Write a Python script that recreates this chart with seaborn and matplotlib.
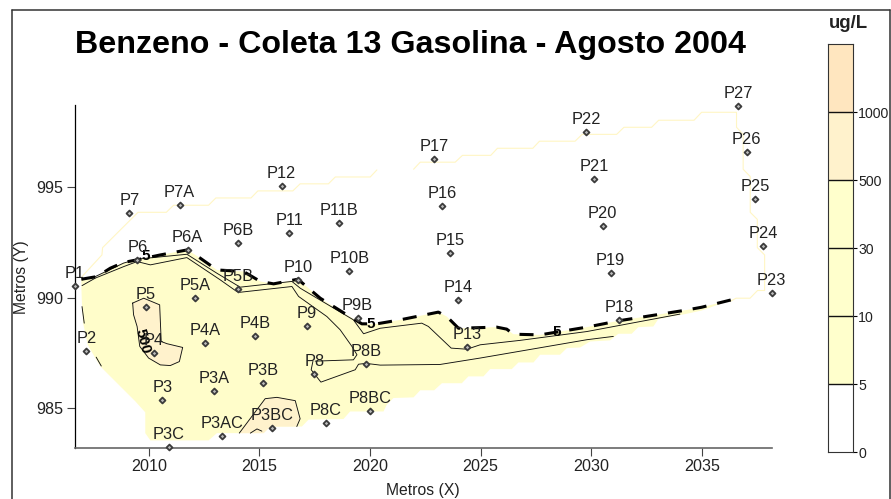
import numpy as np
import matplotlib
matplotlib.use("Agg")
import matplotlib.pyplot as plt
from matplotlib.lines import Line2D
import seaborn as sns

title = "Benzeno - Coleta 13 Gasolina - Agosto 2004"
wells = ["P1","P2","P3","P3A","P3AC","P3B","P3BC","P3C","P4","P4A","P4B","P5","P5A","P5B","P6","P6A","P6B",
         "P7","P7A","P8","P8B","P8BC","P8C","P9","P9B","P10","P10B","P11","P11B","P12","P13","P14","P15",
         "P16","P17","P18","P19","P20","P21","P22","P23","P24","P25","P26","P27"]
well_x = [2006.65,2007.18,2010.61,2012.95,2013.32,2015.16,2015.59,2010.90,2010.22,2012.55,2014.80,2009.86,2012.11,2014.04,2009.48,2011.75,2014.04,
          2009.12,2011.39,2017.49,2019.81,2020.02,2017.99,2017.13,2019.44,2016.74,2019.06,2016.36,2018.62,2016.00,2024.38,2024.00,2023.62,
          2023.25,2022.89,2031.26,2030.88,2030.52,2030.14,2029.77,2038.16,2037.78,2037.40,2037.03,2036.65]
well_y = [990.53,987.59,985.34,985.76,983.73,986.11,984.09,983.21,987.47,987.92,988.25,989.59,990.00,990.38,991.71,992.16,992.46,
          993.83,994.20,986.56,987.01,984.87,984.34,988.69,989.07,990.80,991.22,992.93,993.38,995.04,987.78,989.90,992.02,
          994.14,996.26,988.99,991.10,993.23,995.35,997.48,990.20,992.34,994.45,996.58,998.69]

# 5 ug/L contour (dashed)
c5_x = [2006.95,2007.66,2008.26,2008.86,2009.48,2010.52,2011.75,2012.33,2013.08,2014.28,2015.04,2015.64,2016.74,2017.75,2018.95,2019.63,2020.31,2021.36,
        2023.09,2023.47,2024.00,2025.73,2026.18,2026.48,2027.69,2029.80,2031.26,2032.96,2034.16,2034.99,2036.35]
c5_y = [990.83,990.95,991.33,991.59,991.71,991.93,992.16,991.78,991.25,991.18,990.73,990.62,990.83,989.97,989.22,988.81,988.81,988.99,
        989.34,989.14,988.61,988.66,988.57,988.34,988.31,988.66,988.95,989.22,989.41,989.56,989.90]
# lower (gridded) edge of the 5-500 zone, from right to left
edge_x = [2034.99,2034.29,2033.03,2032.81,2032.13,2031.83,2031.23,2030.85,2029.95,2029.50,2028.90,2028.59,2027.69,2027.39,2026.71,2026.41,2025.43,2025.13,2024.45,2024.15,
          2023.25,2022.90,2022.27,2021.97,2021.06,2020.76,2020.61,2019.10,2018.80,2017.22,2016.92,2015.49,2015.19,2013.08,2012.70,2010.07,2009.84,2009.84,2009.39,2007.81,2007.58,2007.24,2007.03,2006.98,2006.95]
edge_y = [989.41,989.26,989.02,988.69,988.66,988.36,988.36,988.06,988.01,987.74,987.71,987.41,987.41,987.06,987.06,986.76,986.76,986.43,986.43,986.12,
          986.12,985.80,985.80,985.48,985.45,985.15,984.84,984.84,984.50,984.47,984.16,984.16,983.86,983.86,983.53,983.53,983.86,984.80,985.30,986.88,987.26,987.86,988.84,989.59,990.50]
# 10 ug/L contour
c10_x = [2006.98,2007.58,2008.86,2009.48,2011.72,2013.08,2014.13,2016.47,2016.85,2019.25,2019.71,2020.46,2022.34,2022.64,2023.67,2024.38,2024.98,2026.78,2029.80,2034.01]
c10_y = [990.80,990.95,991.56,991.74,991.96,991.10,990.47,990.73,990.42,988.99,988.36,988.61,988.84,988.69,987.71,987.66,987.86,988.06,988.46,989.25]
# 30 ug/L contour
c30_x = [2006.98,2007.58,2008.86,2009.47,2010.07,2011.72,2013.23,2013.98,2014.13,2016.47,2016.77,2018.05,2018.65,2019.18,2019.41,2019.25,2017.52]
c30_y = [990.54,990.88,991.40,991.63,991.48,991.81,990.80,990.27,990.24,990.50,990.05,989.14,988.54,987.79,987.41,987.18,987.12]
c30b_x = [2017.42,2017.34,2017.78,2019.33,2019.48,2019.81,2020.46,2023.17,2024.98,2029.80,2031.00]
c30b_y = [987.12,986.73,986.17,986.73,986.98,987.02,986.94,986.97,987.26,988.09,988.24]
# short contour pieces on the left edge
c_left1_x = [2006.98,2007.08]
c_left1_y = [989.59,988.84]
c_left2_x = [2007.62,2007.85]
c_left2_y = [987.30,986.90]
# 500 ug/L zones
p5_x = [2009.27,2009.77,2010.49,2010.56,2010.82,2011.53,2011.38,2010.97,2010.52,2009.99,2009.59,2009.47,2009.31,2009.27]
p5_y = [989.75,989.97,989.67,988.01,987.91,987.74,987.10,986.92,986.95,987.26,987.79,988.69,989.22,989.75]
p3bc_x = [2014.09,2015.26,2015.79,2016.62,2016.84,2016.69]
p3bc_y = [983.86,985.42,985.48,985.33,984.51,984.16]
p3bc_base_x = [2015.49,2015.19]
p3bc_base_y = [984.16,983.86]
inner_x = [2014.59,2014.89,2015.11]
inner_y = [983.86,984.05,983.95]
# limit of the interpolated grid
lim1_x = [2006.98,2007.88,2007.91,2009.51,2010.79,2011.12,2012.70,2013.03,2014.62,2014.93,2016.51,2016.84,2018.12,2018.43,2020.01,2020.31]
lim1_y = [990.95,991.93,992.26,993.86,993.86,994.18,994.18,994.51,994.51,994.83,994.83,995.15,995.15,995.46,995.46,995.78]
lim2_x = [2021.97,2022.27,2023.85,2024.18,2025.46,2025.76,2027.36,2027.66,2029.27,2029.59,2031.15,2031.48,2032.73,2033.05,2034.65,2034.99,2036.57,2036.57,2036.87,2036.87,
          2037.19,2037.19,2037.51,2037.51,2037.84,2037.84,2037.52,2037.18,2036.55,2036.27]
lim2_y = [995.81,996.13,996.13,996.44,996.44,996.76,996.76,997.08,997.08,997.39,997.39,997.71,997.71,998.03,998.03,998.39,998.39,997.71,997.39,995.81,
          995.48,993.86,993.54,992.26,991.93,990.32,990.32,989.97,989.97,989.82]
# contour labels
lab5_x = [2009.87,2020.05,2028.45]
lab5_y = [991.86,988.79,988.46]
lab500 = (2009.74,988.01)
xticks = [2010,2015,2020,2025,2030,2035]
yticks = [985,990,995]
cbar_labels = ["0","5","10","30","500","1000"]
cbar_colors = ["#FFFFFF","#FFFFCC","#FFFFCC","#FFFFCC","#FFF2CC","#FFE6BF"]

W, H = 891, 499
sns.set_theme(style="white")
plt.rcParams["font.family"] = ["Liberation Sans", "DejaVu Sans"]
TXT = "#222222"
YEL, ORG = "#FFFDCA", "#FFF2CC"

fig = plt.figure(figsize=(W/100, H/100), dpi=100)
ax = fig.add_axes([74.5/W, 1-447.7/H, (771.7-74.5)/W, (447.7-105)/H])
ax.set_xlim(2006.64, 2038.16)
ax.set_ylim(983.20, 998.72)

ax.fill(c5_x+edge_x, c5_y+edge_y, color=YEL, lw=0, zorder=1)
ax.fill(p5_x, p5_y, color=ORG, lw=0, zorder=1.5)
ax.fill(p3bc_x+p3bc_base_x, p3bc_y+p3bc_base_y, color=ORG, lw=0, zorder=1.5)

def line(x, y, **kw):
    sns.lineplot(x=np.array(x), y=np.array(y), estimator=None, sort=False, ax=ax, legend=False, **kw)

for lx, ly in [(lim1_x, lim1_y), (lim2_x, lim2_y)]:
    line(lx, ly, color="#FFF6C4", linewidth=0.8, zorder=2)
for lx, ly in [(c10_x,c10_y),(c30_x,c30_y),(c30b_x,c30b_y),(p5_x,p5_y),(p3bc_x,p3bc_y),(inner_x,inner_y),(c_left1_x,c_left1_y),(c_left2_x,c_left2_y)]:
    line(lx, ly, color="#111111", linewidth=0.65, zorder=3)
line(c5_x, c5_y, color="black", linewidth=2.2, linestyle=(0,(4.6,3.6)), zorder=3.5)

for x, y in zip(lab5_x, lab5_y):
    ax.text(x, y, "5", fontsize=11, fontweight="bold", color="black", ha="center", va="center", zorder=4)
ax.text(*lab500, "500", fontsize=11, fontweight="bold", color="black", ha="center", va="center", rotation=-75, zorder=4)

sns.scatterplot(x=well_x, y=well_y, marker="D", s=9, color="#BBBBBB", edgecolor="#3C3C3C", linewidth=1.3, ax=ax, zorder=5, clip_on=False, legend=False)
for n, x, y in zip(wells, well_x, well_y):
    ax.annotate(n, (x, y), xytext=(0, 3.6), textcoords="offset points", ha="center", va="bottom",
                fontsize=11.8, color=TXT, zorder=6, annotation_clip=False)

for s in ("top","right"):
    ax.spines[s].set_visible(False)
ax.spines["left"].set_color("black"); ax.spines["left"].set_linewidth(0.9)
ax.spines["bottom"].set_color("#666666"); ax.spines["bottom"].set_linewidth(1.2)
ax.set_xticks(xticks); ax.set_yticks(yticks)
ax.tick_params(axis="both", direction="out", length=6, width=0.8, color="#444444", labelsize=11.6, labelcolor=TXT, pad=2, left=True, bottom=True)
ax.patch.set_alpha(0)

fig.text(410/W, 1-45/H, title, fontsize=23.2, fontweight="bold", color="black", ha="center", va="center")
fig.text(423/W, 1-491/H, "Metros (X)", fontsize=11.3, color=TXT, ha="center", va="center")
fig.text(22/W, 1-277/H, "Metros (Y)", fontsize=11.3, color=TXT, ha="center", va="center", rotation=90)

cax = fig.add_axes([828/W, 1-452/H, 25.3/W, 408/H])
cax.set_xlim(0, 1); cax.set_ylim(0, 6)
for i, c in enumerate(cbar_colors):
    cax.axhspan(i, i+1, color=c, lw=0)
    if i:
        cax.axhline(i, color="#111111", lw=1)
cax.set_xticks([])
cax.yaxis.tick_right()
cax.set_yticks(range(6)); cax.set_yticklabels(cbar_labels)
cax.tick_params(axis="y", direction="out", length=3, width=0.8, color="black", labelsize=10.2, labelcolor=TXT, pad=0.5, right=True, left=False)
for s in cax.spines.values():
    s.set_color("#333333"); s.set_linewidth(0.8)
fig.text(848.5/W, 1-23.5/H, "ug/L", fontsize=13.4, fontweight="bold", color=TXT, ha="center", va="center")

for xs, ys in [((11.5,11.5),(499,9.5)), ((11.5,890),(9.5,9.5)), ((890,890),(9.5,499))]:
    fig.add_artist(Line2D([x/W for x in xs], [1-y/H for y in ys], color="#333333", lw=1.1))

fig.savefig("out.png", dpi=100)
